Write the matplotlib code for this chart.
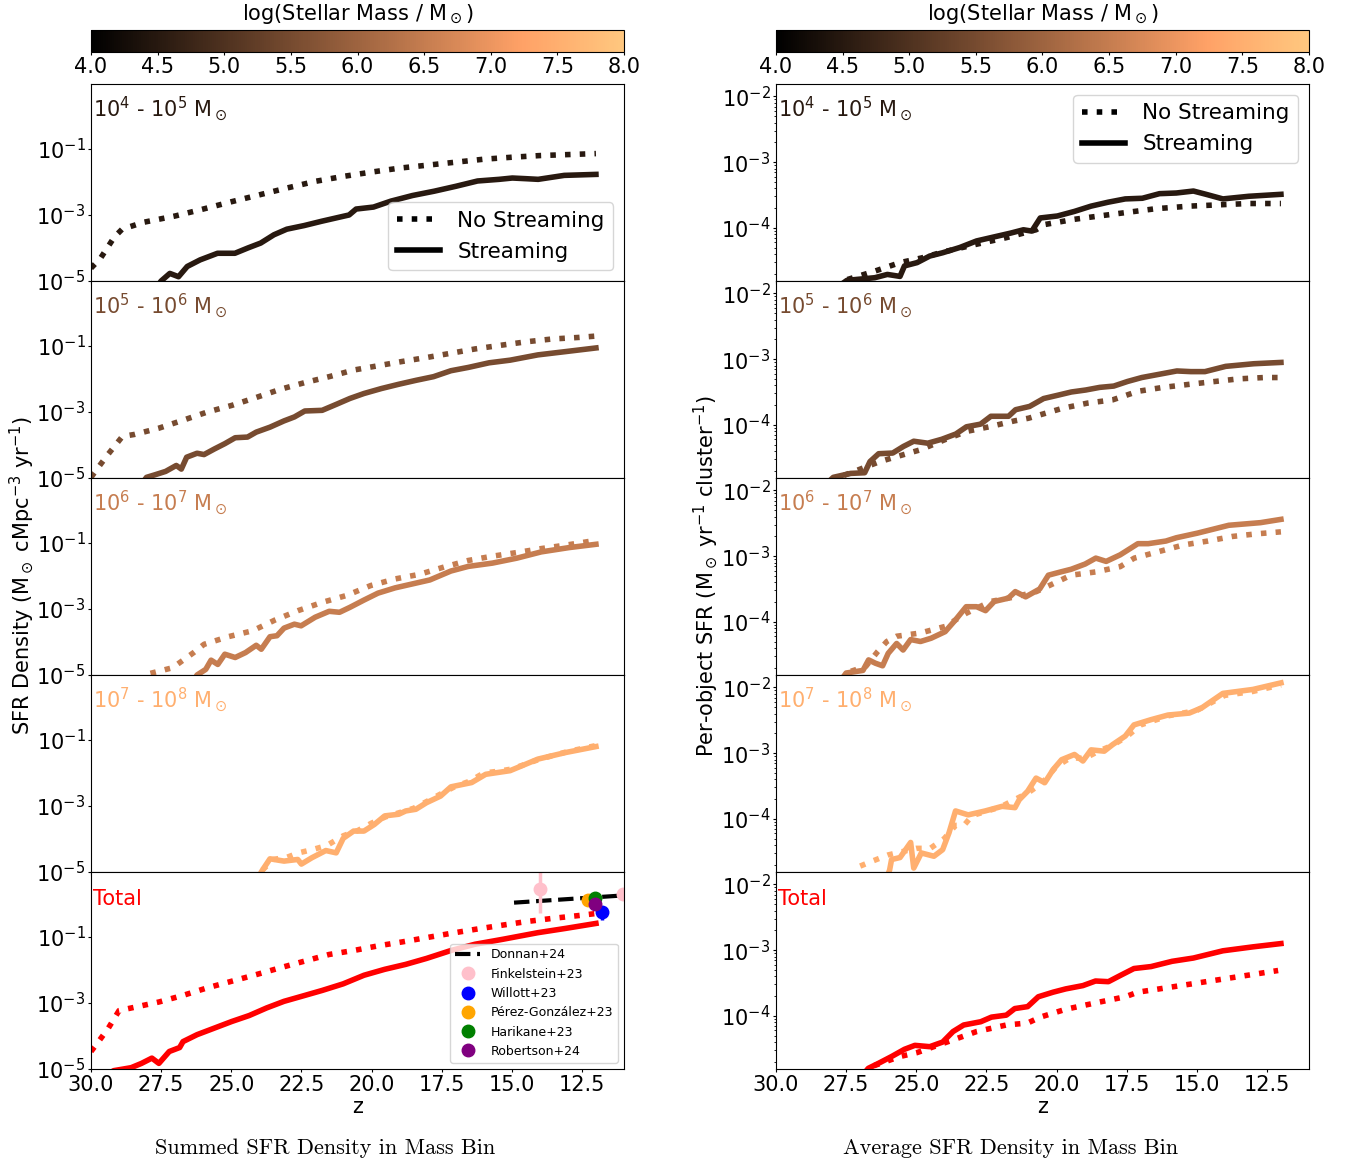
import numpy as np
import matplotlib
matplotlib.use('Agg')
import matplotlib.pyplot as plt
from matplotlib import colors
from matplotlib.lines import Line2D
from matplotlib.ticker import NullLocator

# ---------------- data (log10 values) ----------------
# mass bins: label, colour position on the colourbar
bin_labels = [r'$10^4$ - $10^5$ M$_\odot$', r'$10^5$ - $10^6$ M$_\odot$',
              r'$10^6$ - $10^7$ M$_\odot$', r'$10^7$ - $10^8$ M$_\odot$', 'Total']
bin_centres = [4.5, 5.5, 6.5, 7.5]

# summed SFR density, left column
sum1_z_ns = [30, 29.66, 29.17, 28.89, 28.12, 27.0, 26.0, 25.0, 24.0, 23.0, 22.0, 21.0, 20.0, 19.0, 18.0, 17.0, 16.0, 15.0, 14.0, 13.0, 12.0]
sum1_ns = [-4.61, -4.31, -3.67, -3.43, -3.22, -3.03, -2.82, -2.60, -2.39, -2.18, -1.98, -1.83, -1.70, -1.58, -1.49, -1.40, -1.31, -1.25, -1.20, -1.17, -1.14]
sum1_z_s = [28.0, 27.5, 27.19, 26.88, 26.57, 26.11, 25.49, 24.87, 24.41, 23.95, 23.48, 23.02, 22.40, 21.78, 21.01, 20.80, 20.55, 19.93, 19.31, 18.54, 17.77, 16.99, 16.22, 15.45, 14.98, 14.5, 14.06, 13.13, 12.0]
sum1_s = [-5.6, -5.0, -4.77, -4.87, -4.56, -4.36, -4.16, -4.16, -4.0, -3.85, -3.6, -3.43, -3.32, -3.19, -3.04, -3.0, -2.82, -2.76, -2.58, -2.41, -2.28, -2.13, -1.97, -1.92, -1.88, -1.9, -1.92, -1.80, -1.77]

sum2_z_ns = [30, 29.69, 29.38, 28.88, 28.45, 27.58, 26.72, 25.85, 24.98, 24.11, 23.24, 22.38, 21.51, 20.64, 19.77, 18.91, 18.04, 17.17, 16.31, 15.32, 14.45, 13.58, 12.59, 12.0]
sum2_ns = [-4.98, -4.62, -4.27, -3.74, -3.68, -3.49, -3.25, -3.0, -2.80, -2.56, -2.31, -2.11, -1.93, -1.73, -1.60, -1.47, -1.35, -1.22, -1.09, -0.97, -0.87, -0.79, -0.74, -0.70]
sum2_z_s = [28.3, 28.02, 27.71, 27.34, 26.96, 26.78, 26.59, 26.22, 25.97, 25.60, 25.23, 24.86, 24.42, 24.11, 23.62, 23.12, 22.75, 22.38, 21.76, 21.26, 20.77, 20.27, 19.65, 19.03, 18.41, 17.79, 17.17, 16.55, 15.81, 15.06, 14.07, 13.08, 12.0]
sum2_s = [-5.3, -4.98, -4.9, -4.8, -4.62, -4.73, -4.37, -4.25, -4.29, -4.12, -3.96, -3.78, -3.76, -3.61, -3.46, -3.27, -3.15, -2.97, -2.95, -2.77, -2.59, -2.44, -2.29, -2.16, -2.04, -1.93, -1.75, -1.65, -1.51, -1.43, -1.27, -1.17, -1.06]

sum3_z_ns = [28.3, 28.02, 27.09, 26.34, 25.97, 25.11, 24.24, 23.43, 22.62, 21.76, 20.89, 20.03, 19.16, 18.29, 17.42, 16.55, 15.69, 14.82, 13.95, 12.96, 12.0]
sum3_ns = [-5.2, -4.98, -4.78, -4.32, -4.07, -3.84, -3.66, -3.33, -3.05, -2.80, -2.59, -2.29, -2.09, -1.95, -1.73, -1.53, -1.40, -1.29, -1.17, -1.05, -0.92]
sum3_z_s = [26.4, 26.22, 25.91, 25.72, 25.48, 25.23, 24.86, 24.49, 24.11, 23.93, 23.62, 23.37, 23.12, 22.75, 22.51, 22.01, 21.51, 21.14, 20.77, 20.27, 19.77, 19.16, 18.54, 17.92, 17.17, 16.55, 15.69, 14.82, 13.95, 12.96, 12.0]
sum3_s = [-5.3, -5.0, -4.83, -4.55, -4.68, -4.37, -4.47, -4.32, -4.10, -4.22, -3.84, -3.81, -3.58, -3.46, -3.51, -3.25, -3.07, -3.10, -2.95, -2.73, -2.52, -2.36, -2.24, -2.12, -1.85, -1.71, -1.61, -1.46, -1.27, -1.14, -1.04]

sum4_z_ns = [24.2, 23.9, 23.5, 23.0, 22.6, 22.1, 21.6, 21.0, 20.5, 20.0, 19.5, 19.0, 18.5, 18.0, 17.5, 17.0, 16.5, 16.0, 15.5, 15.0, 14.5, 14.0, 13.0, 12.0]
sum4_ns = [-5.3, -4.95, -4.62, -4.55, -4.42, -4.32, -4.2, -3.9, -3.75, -3.52, -3.33, -3.2, -3.07, -2.85, -2.62, -2.4, -2.25, -2.0, -1.95, -1.88, -1.73, -1.58, -1.35, -1.17]
sum4_z_s = [24.1, 23.93, 23.80, 23.62, 23.12, 22.63, 22.50, 22.13, 21.63, 21.26, 21.01, 20.64, 20.27, 19.90, 19.53, 19.03, 18.78, 18.42, 18.04, 17.54, 17.17, 16.43, 15.93, 15.06, 14.07, 13.08, 12.0]
sum4_s = [-5.3, -5.0, -4.83, -4.60, -4.67, -4.62, -4.76, -4.57, -4.35, -4.42, -3.98, -3.76, -3.76, -3.56, -3.30, -3.25, -3.15, -3.10, -2.90, -2.70, -2.42, -2.29, -2.04, -1.93, -1.58, -1.38, -1.20]

sumT_z_ns = [30, 29.69, 29.38, 29.0, 28.45, 27.58, 26.72, 25.85, 24.98, 24.11, 23.24, 22.38, 21.51, 20.64, 19.77, 18.91, 18.04, 17.17, 16.31, 15.32, 14.45, 13.58, 12.71, 12.0]
sumT_ns = [-4.47, -4.12, -3.76, -3.23, -3.13, -2.97, -2.77, -2.54, -2.34, -2.14, -1.93, -1.73, -1.53, -1.41, -1.27, -1.15, -1.02, -0.89, -0.77, -0.64, -0.53, -0.44, -0.36, -0.29]
sumT_z_s = [29.5, 29.19, 28.57, 28.2, 27.83, 27.58, 27.21, 26.84, 26.72, 26.22, 25.60, 24.98, 24.36, 23.74, 23.12, 22.50, 21.76, 21.01, 20.27, 19.53, 18.78, 18.04, 17.17, 16.31, 15.32, 14.07, 13.08, 12.0]
sumT_s = [-5.2, -5.05, -4.96, -4.83, -4.67, -4.83, -4.47, -4.35, -4.17, -3.96, -3.76, -3.56, -3.38, -3.15, -2.95, -2.80, -2.62, -2.42, -2.16, -1.98, -1.83, -1.65, -1.41, -1.22, -1.07, -0.87, -0.74, -0.59]

# per-object SFR, right column
avg1_z_ns = [27.9, 27.55, 26.48, 25.58, 24.82, 24.06, 22.85, 21.79, 20.73, 20.42, 19.36, 18.30, 17.39, 16.48, 15.27, 14.21, 13.15, 12.0]
avg1_ns = [-4.9, -4.80, -4.66, -4.53, -4.46, -4.37, -4.25, -4.15, -4.03, -3.95, -3.87, -3.81, -3.76, -3.71, -3.67, -3.65, -3.63, -3.63]
avg1_z_s = [27.8, 27.47, 26.48, 26.03, 25.58, 25.42, 24.97, 24.52, 24.06, 23.45, 22.85, 22.24, 21.63, 21.18, 20.88, 20.58, 19.97, 19.36, 18.77, 18.16, 17.55, 16.94, 16.33, 15.73, 15.12, 14.67, 14.07, 13.15, 12.0]
avg1_s = [-4.9, -4.80, -4.76, -4.71, -4.74, -4.58, -4.53, -4.43, -4.38, -4.30, -4.20, -4.14, -4.08, -4.03, -4.05, -3.85, -3.82, -3.75, -3.67, -3.61, -3.56, -3.55, -3.48, -3.47, -3.44, -3.49, -3.56, -3.52, -3.49]

avg2_z_ns = [28.0, 27.7, 26.3, 25.5, 24.85, 24.0, 23.2, 22.4, 21.5, 21.0, 20.6, 19.8, 18.9, 18.0, 17.1, 16.2, 15.2, 14.35, 13.5, 12.6, 12.0]
avg2_ns = [-4.9, -4.79, -4.56, -4.46, -4.38, -4.23, -4.10, -4.03, -3.94, -3.90, -3.85, -3.75, -3.67, -3.62, -3.49, -3.43, -3.38, -3.34, -3.30, -3.28, -3.28]
avg2_z_s = [28.2, 27.96, 27.34, 26.84, 26.65, 26.34, 25.84, 25.46, 25.09, 24.59, 24.09, 23.59, 23.21, 22.71, 22.34, 21.71, 21.46, 20.96, 20.46, 19.96, 19.47, 18.96, 18.46, 17.96, 17.47, 16.96, 16.46, 15.71, 15.21, 14.71, 13.97, 12.97, 12.0]
avg2_s = [-4.9, -4.80, -4.74, -4.73, -4.56, -4.44, -4.43, -4.33, -4.25, -4.28, -4.22, -4.14, -4.03, -3.99, -3.87, -3.87, -3.77, -3.72, -3.60, -3.55, -3.50, -3.47, -3.43, -3.41, -3.34, -3.28, -3.24, -3.18, -3.19, -3.19, -3.11, -3.07, -3.05]

avg3_z_ns = [27.7, 27.45, 26.8, 26.37, 26.05, 25.7, 24.85, 23.97, 23.22, 22.35, 21.47, 20.72, 20.22, 19.48, 18.6, 17.73, 17.23, 16.35, 15.48, 14.6, 13.73, 12.86, 12.0]
avg3_ns = [-4.9, -4.77, -4.68, -4.45, -4.30, -4.22, -4.17, -4.07, -3.87, -3.69, -3.62, -3.54, -3.44, -3.29, -3.24, -3.16, -3.03, -2.93, -2.83, -2.77, -2.70, -2.66, -2.63]
avg3_z_s = [27.7, 27.5, 26.9, 26.7, 26.46, 26.2, 26.0, 25.7, 25.47, 25.2, 24.85, 24.47, 23.97, 23.6, 23.22, 22.85, 22.53, 22.22, 21.72, 21.47, 21.1, 20.6, 20.29, 19.85, 19.48, 18.98, 18.6, 18.23, 17.73, 17.1, 16.73, 16.1, 15.73, 14.98, 13.86, 12.73, 12.0]
avg3_s = [-4.9, -4.78, -4.74, -4.58, -4.63, -4.67, -4.48, -4.33, -4.43, -4.27, -4.30, -4.25, -4.15, -3.97, -3.77, -3.77, -3.83, -3.69, -3.64, -3.54, -3.62, -3.50, -3.29, -3.24, -3.20, -3.12, -3.03, -3.08, -2.98, -2.81, -2.81, -2.77, -2.72, -2.65, -2.53, -2.49, -2.44]

avg4_z_ns = [27.0, 26.6, 26.0, 25.5, 25.0, 24.5, 24.0, 23.6, 23.3, 23.0, 22.0, 21.0, 20.5, 20.0, 19.5, 19.0, 18.5, 18.0, 17.5, 17.0, 16.0, 15.0, 14.0, 13.0, 12.0]
avg4_ns = [-4.72, -4.65, -4.55, -4.5, -4.45, -4.45, -4.3, -4.1, -4.1, -3.95, -3.82, -3.6, -3.45, -3.2, -3.07, -3.08, -2.97, -2.88, -2.75, -2.57, -2.43, -2.35, -2.12, -2.06, -1.96]
avg4_z_s = [26.1, 25.95, 25.88, 25.58, 25.2, 25.09, 24.82, 24.37, 24.06, 23.83, 23.6, 23.15, 22.54, 21.94, 21.48, 21.33, 21.03, 20.73, 20.42, 20.12, 19.82, 19.36, 19.06, 18.77, 18.3, 18.0, 17.55, 17.24, 16.63, 16.03, 15.27, 14.82, 14.07, 13.0, 12.0]
avg4_s = [-4.95, -4.78, -4.62, -4.59, -4.36, -4.75, -4.52, -4.57, -4.47, -4.21, -3.88, -3.94, -3.88, -3.81, -3.83, -3.71, -3.58, -3.38, -3.45, -3.25, -3.10, -3.02, -3.12, -2.95, -2.97, -2.87, -2.74, -2.57, -2.49, -2.42, -2.39, -2.31, -2.09, -2.03, -1.93]

avgT_z_ns = [26.9, 26.64, 25.58, 24.97, 23.91, 22.85, 21.79, 21.03, 20.58, 19.67, 18.46, 17.55, 17.1, 16.03, 14.97, 13.91, 13.0, 12.1]
avgT_ns = [-4.9, -4.78, -4.62, -4.56, -4.40, -4.24, -4.14, -4.11, -4.02, -3.90, -3.79, -3.71, -3.64, -3.57, -3.50, -3.43, -3.37, -3.31]
avgT_z_s = [26.9, 26.71, 26.33, 25.88, 25.42, 25.05, 24.52, 24.06, 23.69, 23.31, 22.7, 22.32, 21.79, 21.49, 21.03, 20.65, 20.12, 19.67, 19.06, 18.61, 18.15, 17.7, 17.24, 16.63, 15.88, 15.12, 14.07, 13.0, 12.0]
avgT_s = [-4.9, -4.80, -4.72, -4.62, -4.51, -4.45, -4.47, -4.40, -4.24, -4.14, -4.09, -4.02, -3.99, -3.89, -3.86, -3.71, -3.64, -3.59, -3.54, -3.47, -3.48, -3.38, -3.28, -3.25, -3.17, -3.12, -3.01, -2.95, -2.90]

# observations (log10 SFR density)
donnan_z = [14.92, 11.0]
donnan = [0.04, 0.26]
finkel_z = [14.0, 11.04]
finkel = [0.445, 0.29]
finkel_lo = [-0.26, 0.29]
finkel_hi = [1.3, 0.29]
willott_z = [11.77]
willott = [-0.23]
willott_lo = [-0.48]
willott_hi = [-0.11]
perez_z = [12.28]
perez = [0.11]
harikane_z = [12.02]
harikane = [0.17]
harikane_lo = [0.0]
harikane_hi = [0.28]
robertson_z = [12.02]
robertson = [-0.01]

summed = [(sum1_z_ns, sum1_ns, sum1_z_s, sum1_s), (sum2_z_ns, sum2_ns, sum2_z_s, sum2_s),
          (sum3_z_ns, sum3_ns, sum3_z_s, sum3_s), (sum4_z_ns, sum4_ns, sum4_z_s, sum4_s),
          (sumT_z_ns, sumT_ns, sumT_z_s, sumT_s)]
average = [(avg1_z_ns, avg1_ns, avg1_z_s, avg1_s), (avg2_z_ns, avg2_ns, avg2_z_s, avg2_s),
           (avg3_z_ns, avg3_ns, avg3_z_s, avg3_s), (avg4_z_ns, avg4_ns, avg4_z_s, avg4_s),
           (avgT_z_ns, avgT_ns, avgT_z_s, avgT_s)]

# ---------------- figure ----------------
W, H = 1346, 1165
fig = plt.figure(figsize=(W / 100, H / 100), dpi=100)
cmap = plt.get_cmap('copper')
norm = colors.Normalize(4, 8)
line_cols = [cmap(norm(c)) for c in bin_centres] + ['red']

col_x = [91 / W, 776 / W]
ax_w = 533 / W
ph = 197 / H
top = 1 - 84 / H
fs = 15

for c, data in enumerate([summed, average]):
    # colourbar on top
    cax = fig.add_axes([col_x[c], 1 - 52 / H, ax_w, 22 / H])
    sm = plt.cm.ScalarMappable(norm=norm, cmap=cmap)
    cb = fig.colorbar(sm, cax=cax, orientation='horizontal')
    cb.set_ticks([4.0, 4.5, 5.0, 5.5, 6.0, 6.5, 7.0, 7.5, 8.0])
    cb.set_ticklabels(['4.0', '4.5', '5.0', '5.5', '6.0', '6.5', '7.0', '7.5', '8.0'])
    cax.tick_params(labelsize=fs, length=2.5, pad=1)
    cb.set_label(r'log(Stellar Mass / M$_\odot$)', fontsize=fs, labelpad=7)
    cax.xaxis.set_label_position('top')

    axes = []
    for r in range(5):
        ax = fig.add_axes([col_x[c], top - (r + 1) * ph, ax_w, ph],
                          sharex=axes[0] if axes else None)
        axes.append(ax)
        z_ns, v_ns, z_s, v_s = data[r]
        ax.plot(z_ns, 10 ** np.array(v_ns), color=line_cols[r], ls=':', lw=4)
        ax.plot(z_s, 10 ** np.array(v_s), color=line_cols[r], ls='-', lw=4)
        ax.set_yscale('log')
        if c == 0:
            ax.set_ylim(1e-5, 9.3)
            ax.set_yticks([1e-5, 1e-3, 1e-1])
            ax.yaxis.set_minor_locator(NullLocator())
        else:
            ax.set_ylim(10 ** -4.81, 10 ** -1.81)
            ax.set_yticks([1e-4, 1e-3, 1e-2])
        ax.set_xlim(30, 11)
        ax.set_xticks([30, 27.5, 25, 22.5, 20, 17.5, 15, 12.5])
        ax.tick_params(labelsize=fs, length=2.5, pad=1.5)
        ax.tick_params(which='minor', length=1.5)
        if r < 4:
            ax.tick_params(labelbottom=False)
        ax.text(0.003, 0.835, bin_labels[r], transform=ax.transAxes, color=line_cols[r],
                fontsize=fs, ha='left', va='baseline')

    axes[-1].set_xlabel('z', fontsize=fs, labelpad=2)
    axes[-1].set_xticklabels(['30.0', '27.5', '25.0', '22.5', '20.0', '17.5', '15.0', '12.5'])

    handles = [Line2D([], [], color='k', ls=':', lw=4, label='No Streaming'),
               Line2D([], [], color='k', ls='-', lw=4, label='Streaming')]
    axes[0].legend(handles=handles, fontsize=15.5, loc='lower right' if c == 0 else 'upper right')

    if c == 0:
        ax = axes[-1]
        ax.plot(donnan_z, 10 ** np.array(donnan), color='k', ls='--', lw=3, label='Donnan+24')
        ax.errorbar(finkel_z, 10 ** np.array(finkel),
                    yerr=[10 ** np.array(finkel) - 10 ** np.array(finkel_lo),
                          10 ** np.array(finkel_hi) - 10 ** np.array(finkel)],
                    fmt='none', ecolor='pink', elinewidth=2.5)
        ax.plot(finkel_z, 10 ** np.array(finkel), 'o', color='pink', ms=9, label='Finkelstein+23')
        ax.errorbar(willott_z, 10 ** np.array(willott),
                    yerr=[10 ** np.array(willott) - 10 ** np.array(willott_lo),
                          10 ** np.array(willott_hi) - 10 ** np.array(willott)],
                    fmt='none', ecolor='blue', elinewidth=2.5)
        ax.plot(willott_z, 10 ** np.array(willott), 'o', color='blue', ms=9, label='Willott+23')
        ax.plot(perez_z, 10 ** np.array(perez), 'o', color='orange', ms=9, label='Pérez-González+23')
        ax.errorbar(harikane_z, 10 ** np.array(harikane),
                    yerr=[10 ** np.array(harikane) - 10 ** np.array(harikane_lo),
                          10 ** np.array(harikane_hi) - 10 ** np.array(harikane)],
                    fmt='none', ecolor='green', elinewidth=2.5)
        ax.plot(harikane_z, 10 ** np.array(harikane), 'o', color='green', ms=9, label='Harikane+23')
        ax.plot(robertson_z, 10 ** np.array(robertson), 'o', color='purple', ms=9, label='Robertson+24')
        for ln in ax.lines[:2]:
            ln.set_label('_nolegend_')
        ax.legend(fontsize=9, loc='lower right')

fig.text(22 / W, 1 - 576 / H, r'SFR Density (M$_\odot$ cMpc$^{-3}$ yr$^{-1}$)',
         rotation=90, ha='center', va='center', fontsize=fs)
fig.text(706 / W, 1 - 576 / H, r'Per-object SFR (M$_\odot$ yr$^{-1}$ cluster$^{-1}$)',
         rotation=90, ha='center', va='center', fontsize=fs)
fig.text(325 / W, 1 - 1148 / H, 'Summed SFR Density in Mass Bin', fontfamily='cmr10',
         fontsize=16, ha='center', va='center')
fig.text(1011 / W, 1 - 1148 / H, 'Average SFR Density in Mass Bin', fontfamily='cmr10',
         fontsize=16, ha='center', va='center')

fig.savefig('out.png', dpi=100)
